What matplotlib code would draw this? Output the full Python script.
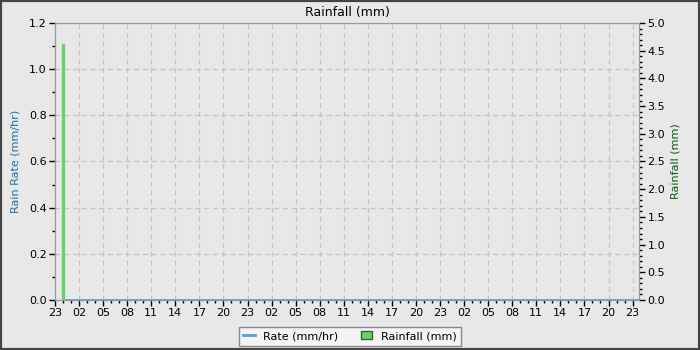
import matplotlib
matplotlib.use('Agg')
import matplotlib.pyplot as plt
import matplotlib.dates as mdates
from matplotlib.patches import Rectangle
from datetime import datetime, timedelta

# data
start = datetime(2024, 1, 1, 23, 0)
end = start + timedelta(hours=72.8)
rate_times = [start + timedelta(hours=0.95), end]
rate_values = [0.0, 0.0]
rain_times = [start + timedelta(hours=0.95)]
rain_values = [4.62]

bg = '#e8e8e8'
fig = plt.figure(figsize=(7, 3.5), dpi=100, facecolor=bg)
ax = fig.add_axes([55/700, 1-300/350, (639-55)/700, (300-23)/350])
ax.set_facecolor(bg)
ax2 = ax.twinx()

ax.plot(rate_times, rate_values, color='#4fa3d8', lw=2, label='Rate (mm/hr)', zorder=3)
ax2.bar(rain_times, rain_values, width=timedelta(hours=0.22), color='#6ad16a',
        edgecolor='#6ad16a', label='Rainfall (mm)')

ax.set_xlim(start, end)
ax.set_ylim(0, 1.2)
ax2.set_ylim(0, 5)
ax.set_yticks([0, 0.2, 0.4, 0.6, 0.8, 1.0, 1.2])
ax.set_yticks([0.1, 0.3, 0.5, 0.7, 0.9, 1.1], minor=True)
ax2.set_yticks([i * 0.5 for i in range(11)])
ax2.set_yticks([i * 0.1 for i in range(51)], minor=True)
ax.yaxis.set_major_formatter(plt.FormatStrFormatter('%.1f'))
ax2.yaxis.set_major_formatter(plt.FormatStrFormatter('%.1f'))

ax.xaxis.set_major_locator(mdates.HourLocator(byhour=[2, 5, 8, 11, 14, 17, 20, 23]))
ax.xaxis.set_minor_locator(mdates.HourLocator())
ax.xaxis.set_major_formatter(mdates.DateFormatter('%H'))

ax.grid(True, which='major', color='#c4c4c4', linestyle=(0, (4, 3)), lw=0.9)
ax.set_axisbelow(True)

for a in (ax, ax2):
    for s in a.spines.values():
        s.set_color('#999999')
    a.tick_params(which='major', length=4, width=1, color='black', labelsize=8, pad=2)
    a.tick_params(which='minor', length=2.5, width=1, color='black')

ax.set_ylabel('Rain Rate (mm/hr)', color='#1f6fa5', fontsize=8, labelpad=6)
ax2.set_ylabel('Rainfall (mm)', color='#0a5a0a', fontsize=8, labelpad=4)
ax.set_title('Rainfall (mm)', fontsize=9, pad=5)

h1, l1 = ax.get_legend_handles_labels()
h2, l2 = ax2.get_legend_handles_labels()
leg = fig.legend(h1 + h2, l1 + l2, loc='center', bbox_to_anchor=(0.5, 0.04), ncol=2,
                 fontsize=8, fancybox=False, framealpha=1, facecolor='#f4f4f4',
                 edgecolor='#888888', handlelength=1.0, handleheight=0.8,
                 columnspacing=2.0, borderpad=0.4)
leg.legend_handles[1].set_edgecolor('#336633')

fig.patches.append(Rectangle((0, 0), 1, 1, transform=fig.transFigure, fill=False,
                             edgecolor='#444444', lw=3, zorder=10))

fig.savefig('out.png', dpi=100, facecolor=bg)
